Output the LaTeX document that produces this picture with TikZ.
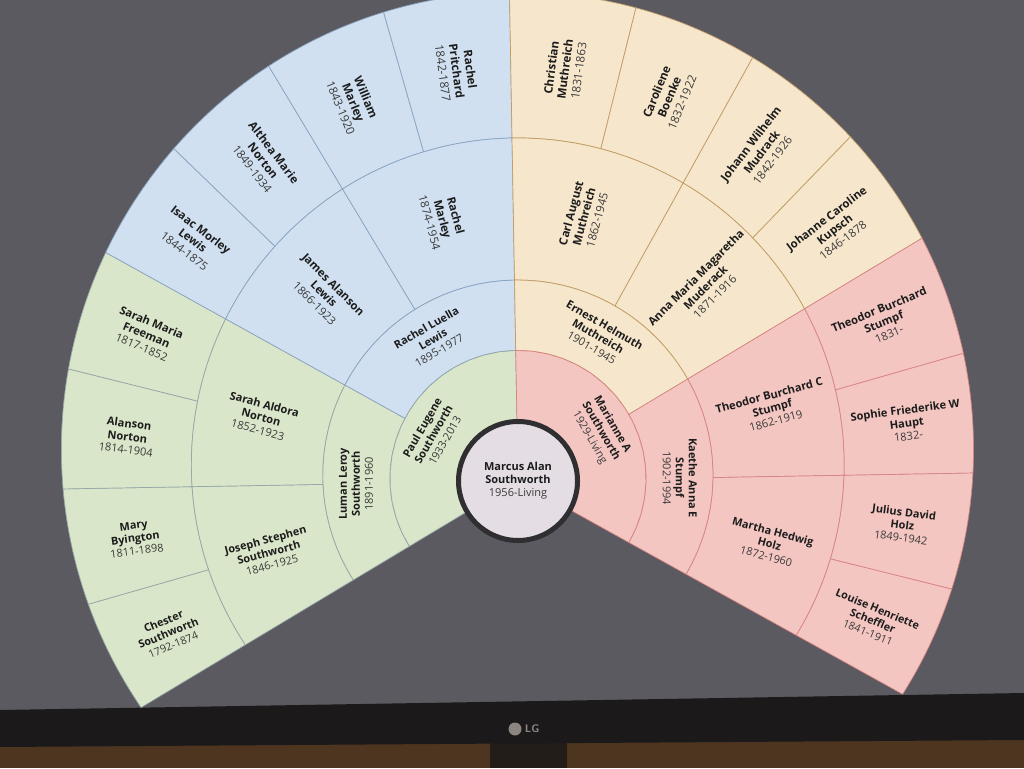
\documentclass[tikz,border=0pt]{standalone}
\usepackage{fontspec}
\setmainfont{Open Sans}
\usetikzlibrary{positioning}

\definecolor{screen}{HTML}{5B5A60}
\definecolor{bezel}{HTML}{1B1919}
\definecolor{desk}{HTML}{4E3520}
\definecolor{logogray}{HTML}{8A8580}
\definecolor{fill0}{HTML}{DAE6C9}
\definecolor{line0}{HTML}{97A8AA}
\definecolor{fill1}{HTML}{D0E0F1}
\definecolor{line1}{HTML}{8AA4C1}
\definecolor{fill2}{HTML}{F6E6CB}
\definecolor{line2}{HTML}{C29D66}
\definecolor{fill3}{HTML}{F4C6C2}
\definecolor{line3}{HTML}{D88484}
\definecolor{rootfill}{HTML}{E4DEE4}
\definecolor{rootline}{HTML}{2F2E30}
\definecolor{namecol}{HTML}{1C1C1C}
\definecolor{datecol}{HTML}{3A3A3A}

\newcommand{\pers}[3]{\textbf{#1}\\\textbf{#2}\\{\color{datecol}#3}}
% one cell of the fan: from angle, to angle, inner r, outer r, family
\newcommand{\fanpiece}[5]{%
  \filldraw[fill=fill#5, draw=line#5, piece]
    plot[domain=#1:#2, samples=18] ({fx(\x,#3)},{fy(\x,#3)})
    -- plot[domain=#2:#1, samples=18] ({fx(\x,#4)},{fy(\x,#4)}) -- cycle;}

\begin{document}
\begin{tikzpicture}[
x=1pt, y=1pt,
declare function={
fx(\a,\r)=518+\r*cos(\a)/(1-0.00015*\r*sin(\a));
fy(\a,\r)=287+\r*sin(\a)/(1-0.00015*\r*sin(\a));
},
piece/.style={line width=0.7pt, line join=round},
person/.style={
align=center,
inner sep=0pt,
text=namecol,
font=\fontsize{11}{13}\selectfont
}
]
\useasboundingbox (0,0) rectangle (1024,768);
\fill[screen] (0,0) rectangle (1024,768);

% monitor frame
\fill[desk] (0,0) rectangle (1024,32);
\fill[bezel!85!desk] (490,0) rectangle (567,26);
\fill[bezel] (0,21) -- (1024,28) -- (1024,75) -- (0,58) -- cycle;
\node[circle, fill=logogray, minimum size=13pt, inner sep=0pt] (lglogo) at (515,39) {};
\node[right=3pt of lglogo, inner sep=0pt, text=logogray,
  font=\sffamily\bfseries\fontsize{11}{11}\selectfont] (lgtext) {LG};

\begin{scope}[rotate around={1:(518,287)}]

% great-great-grandparents
\foreach \la/\lb/\yr [count=\i from 0] in {
Chester/Southworth/1792-1874,
Mary/Byington/1811-1898,
Alanson/Norton/1814-1904,
Sarah Maria/Freeman/1817-1852,
Isaac Morley/Lewis/1844-1875,
Althea Marie/Norton/1849-1934,
William/Marley/1843-1920,
Rachel/Pritchard/1842-1877,
Christian/Muthreich/1831-1863,
Caroliene/Boenke/1832-1922,
Johann Wilhelm/Mudrack/1842-1926,
Johanne Caroline/Kupsch/1846-1878,
Theodor Burchard/Stumpf/1831-,
Sophie Friederike W/Haupt/1832-,
Julius David/Holz/1849-1942,
Louise Henriette/Scheffler/1841-1911}{
\pgfmathsetmacro\aa{210-15*\i}
\pgfmathsetmacro\ab{\aa-15}
\pgfmathsetmacro\m{\aa-7.5}
\pgfmathsetmacro\rot{\m>90 ? \m-180 : \m}
\pgfmathsetmacro\sc{1/(1-0.00015*390*sin(\m))}
\pgfmathtruncatemacro\f{\i/4}
\fanpiece{\aa}{\ab}{326}{455}{\f}
\node[person, rotate=\rot, scale=\sc] (gen4-\i) at ({fx(\m,390)},{fy(\m,390)}) {\pers{\la}{\lb}{\yr}};
}

% great-grandparents
\foreach \la/\lb/\yr [count=\i from 0] in {
Joseph Stephen/Southworth/1846-1925,
Sarah Aldora/Norton/1852-1923,
James Alanson/Lewis/1866-1923,
Rachel/Marley/1874-1954,
Carl August/Muthreich/1862-1945,
Anna Maria Magaretha/Muderack/1871-1916,
Theodor Burchard C/Stumpf/1862-1919,
Martha Hedwig/Holz/1872-1960}{
\pgfmathsetmacro\aa{210-30*\i}
\pgfmathsetmacro\ab{\aa-30}
\pgfmathsetmacro\m{\aa-15}
\pgfmathsetmacro\rot{\m>90 ? \m-180 : \m}
\pgfmathsetmacro\sc{1/(1-0.00015*262*sin(\m))}
\pgfmathtruncatemacro\f{\i/2}
\fanpiece{\aa}{\ab}{195}{326}{\f}
\node[person, rotate=\rot, scale=\sc] (gen3-\i) at ({fx(\m,262)},{fy(\m,262)}) {\pers{\la}{\lb}{\yr}};
}

% grandparents
\foreach \la/\lb/\yr [count=\i from 0] in {
Luman Leroy/Southworth/1891-1960,
Rachel Luella/Lewis/1895-1977,
Ernest Helmuth/Muthreich/1901-1945,
Kaethe Anna E/Stumpf/1902-1994}{
\pgfmathsetmacro\aa{210-60*\i}
\pgfmathsetmacro\ab{\aa-60}
\pgfmathsetmacro\m{\aa-30}
\fanpiece{\aa}{\ab}{128}{195}{\i}
\node[person, rotate=\m-90] (gen2-\i) at ({fx(\m,162)},{fy(\m,162)}) {\pers{\la}{\lb}{\yr}};
}

% parents
\foreach \la/\lb/\yr [count=\i from 0] in {
Paul Eugene/Southworth/1933-2013,
Marianne A/Southworth/1929-Living}{
\pgfmathsetmacro\aa{210-120*\i}
\pgfmathsetmacro\ab{\aa-120}
\pgfmathsetmacro\m{\aa-60}
\pgfmathtruncatemacro\f{3*\i}
\fanpiece{\aa}{\ab}{58}{128}{\f}
\node[person, rotate=\m-90] (gen1-\i) at ({fx(\m,96)},{fy(\m,96)}) {\pers{\la}{\lb}{\yr}};
}

\node[person, circle, fill=rootfill, draw=rootline, line width=5pt,
  minimum size=119pt] (root) at (518,287) {\pers{Marcus Alan}{Southworth}{1956-Living}};

\end{scope}
\end{tikzpicture}
\end{document}
